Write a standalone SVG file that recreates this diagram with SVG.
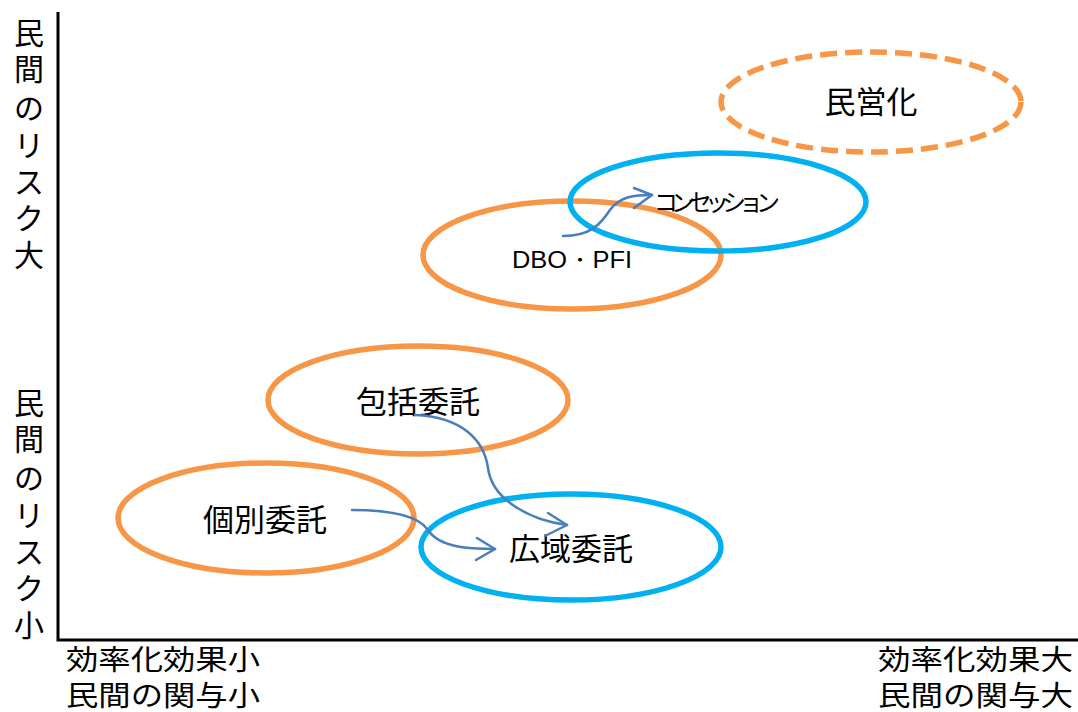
<svg xmlns="http://www.w3.org/2000/svg" width="1078" height="712" viewBox="0 0 1078 712">
<style>
.t{font-family:"Noto Sans CJK JP","Noto Sans",sans-serif;fill:#000}
.o{fill:none;stroke:#F79646;stroke-width:5.5}
.b{fill:none;stroke:#00B0F0;stroke-width:5.5}
.a{fill:none;stroke:#4A7EBB;stroke-width:2.5;stroke-linecap:round;stroke-linejoin:round}
.y{font-family:"Noto Sans CJK JP","Noto Sans",sans-serif;fill:#000;font-size:25px;text-anchor:middle}
</style>
<rect width="1078" height="712" fill="#fff"/>
<g id="axes">
<path d="M58,12 V640 H1078" fill="none" stroke="#000" stroke-width="3"/>
</g>
<g id="ylabel-top">
<text class="y" transform="translate(29,44) scale(1.2)">民</text>
<text class="y" transform="translate(29,80) scale(1.2)">間</text>
<text class="y" transform="translate(29,119) scale(1.2)">の</text>
<text class="y" transform="translate(29,156) scale(1.2)">リ</text>
<text class="y" transform="translate(29,193) scale(1.2)">ス</text>
<text class="y" transform="translate(29,229) scale(1.2)">ク</text>
<text class="y" transform="translate(29,266) scale(1.2)">大</text>
</g>
<g id="ylabel-bottom">
<text class="y" transform="translate(29,414) scale(1.2)">民</text>
<text class="y" transform="translate(29,450) scale(1.2)">間</text>
<text class="y" transform="translate(29,489) scale(1.2)">の</text>
<text class="y" transform="translate(29,526) scale(1.2)">リ</text>
<text class="y" transform="translate(29,563) scale(1.2)">ス</text>
<text class="y" transform="translate(29,599) scale(1.2)">ク</text>
<text class="y" transform="translate(29,636) scale(1.2)">小</text>
</g>
<g id="xlabel-left">
<text class="t" font-size="28" x="66" y="670" textLength="194" lengthAdjust="spacingAndGlyphs">効率化効果小</text>
<text class="t" font-size="28" x="66" y="706" textLength="194" lengthAdjust="spacingAndGlyphs">民間の関与小</text>
</g>
<g id="xlabel-right">
<text class="t" font-size="28" x="878" y="670" textLength="195" lengthAdjust="spacingAndGlyphs">効率化効果大</text>
<text class="t" font-size="28" x="878" y="706" textLength="195" lengthAdjust="spacingAndGlyphs">民間の関与大</text>
</g>
<g id="node-minei">
<ellipse class="o" cx="871" cy="102" rx="150" ry="50" stroke-dasharray="17 8"/>
<text class="t" font-size="31" x="871" y="113" text-anchor="middle">民営化</text>
</g>
<g id="node-dbo">
<ellipse class="o" cx="572" cy="255" rx="149" ry="54"/>
<text x="512" y="268" font-family="Liberation Sans,Arial,sans-serif" font-size="24" textLength="120" lengthAdjust="spacingAndGlyphs">DBO・PFI</text>
</g>
<g id="node-housetsu">
<ellipse class="o" cx="418" cy="400" rx="150" ry="54"/>
<text class="t" font-size="31" x="418" y="413" text-anchor="middle">包括委託</text>
</g>
<g id="node-kobetsu">
<ellipse class="o" cx="266" cy="518" rx="148" ry="55"/>
<text class="t" font-size="31" x="265" y="531" text-anchor="middle">個別委託</text>
</g>
<g id="node-concession">
<ellipse class="b" cx="718" cy="202" rx="148" ry="49"/>
<text class="t" font-size="24" x="654" y="211" textLength="126">コンセッション</text>
</g>
<g id="node-kouiki">
<ellipse class="b" cx="571" cy="547" rx="150" ry="53"/>
<text class="t" font-size="31" x="571" y="560" text-anchor="middle">広域委託</text>
</g>
<g id="connectors">
<path class="a" d="M415,415 C462,417 484,440 488,468 C492,500 530,520 567,525"/>
<path class="a" d="M548,513 L567,525 L545,536"/>
<path class="a" d="M352,510 C398,510 420,518 428,530 C440,548 470,549 495,549"/>
<path class="a" d="M477,538 L495,549 L476,560"/>
<path class="a" d="M563,236 C590,236 600,225 610,210 C620,196 635,195 652,195"/>
<path class="a" d="M634,188 L652,195 L634,208"/>
</g>
</svg>
